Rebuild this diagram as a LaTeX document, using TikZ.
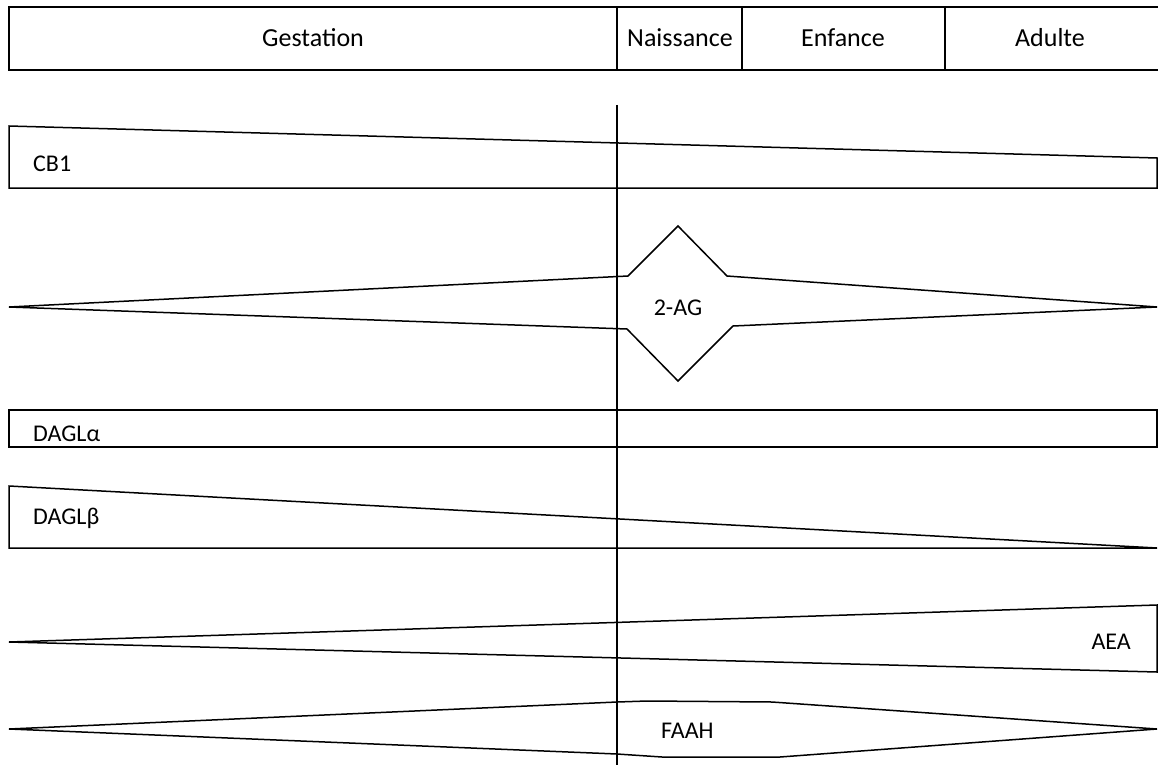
\documentclass[tikz,border=0pt]{standalone}
\usepackage{fontspec}
\setmainfont{Carlito}
\begin{document}
\begin{tikzpicture}[x=1pt,y=-1pt,
  band/.style={draw,line width=1.5pt,line join=miter},
  hlbl/.style={font=\fontsize{26}{30}\selectfont,inner sep=0pt,anchor=base},
  lbl/.style={font=\fontsize{24}{28}\selectfont,inner sep=0pt}]
  \useasboundingbox (0,0) rectangle (1158,765);
  % header
  \draw[line width=2pt] (1158,7) -- (9,7) -- (9,70) -- (1158,70);
  \draw[line width=1.5pt] (617,7) -- (617,70) (742,7) -- (742,70) (945,7) -- (945,70);
  \node[hlbl] (gest) at (313,47) {Gestation};
  \node[hlbl] (nais) at (680,47) {Naissance};
  \node[hlbl] (enf) at (843,47) {Enfance};
  \node[hlbl] (adu) at (1050,47) {Adulte};
  % birth line
  \draw[line width=1.5pt] (617,105) -- (617,765);
  % CB1
  \draw[band] (9,126) -- (1157,158) -- (1157,188) -- (9,188) -- cycle;
  \node[lbl,anchor=base west] (cb1) at (33,171) {CB1};
  % 2-AG
  \draw[band] (9,307) -- (628,276) -- (678,226) -- (727,276) -- (1157,307)
    -- (733,326) -- (678,381) -- (627,329) -- cycle;
  \node[lbl,anchor=base] (ag) at (678,315) {2-AG};
  % DAGL alpha
  \draw[band] (9,410) rectangle (1157,447);
  \node[lbl,anchor=base west] (dagla) at (33,441) {DAGLα};
  % DAGL beta
  \draw[band] (9,486) -- (1157,548) -- (9,548) -- cycle;
  \node[lbl,anchor=base west] (daglb) at (33,524) {DAGLβ};
  % AEA
  \draw[band] (9,642) -- (1157,605) -- (1157,672) -- cycle;
  \node[lbl,anchor=base east] (aea) at (1131,649) {AEA};
  % FAAH
  \draw[band] (9,729) -- (617,702) -- (647,701) -- (772,702) -- (1157,729)
    -- (780,757) -- (662,757) -- (617,754) -- cycle;
  \node[lbl,anchor=base west] (faah) at (661,738) {FAAH};
\end{tikzpicture}
\end{document}
